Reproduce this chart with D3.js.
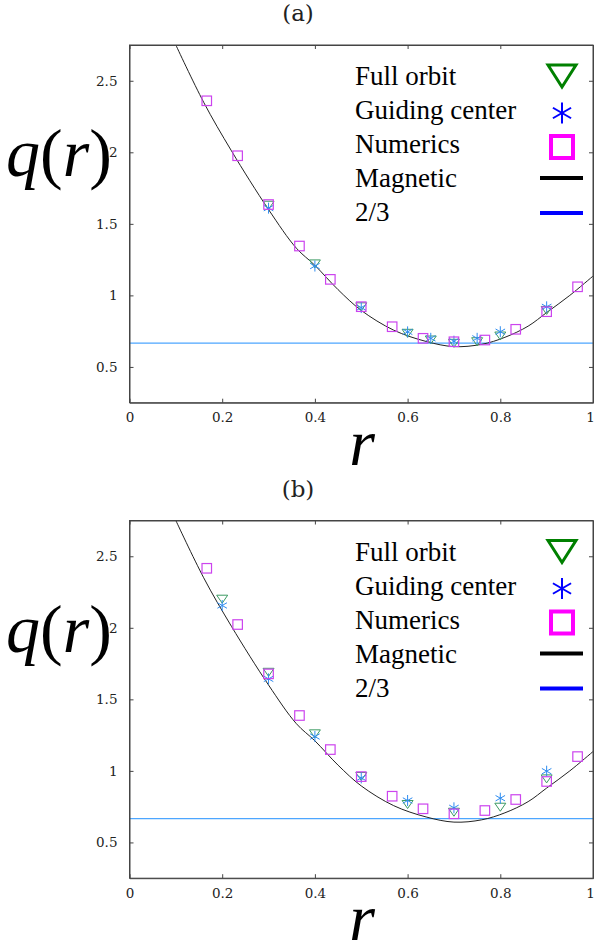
<!DOCTYPE html>
<html>
<head>
<meta charset="utf-8">
<script src="https://cdn.jsdelivr.net/npm/d3@7/dist/d3.min.js"></script>
<style>
  body { margin: 0; background: #fff; }
  svg { display: block; }
</style>
</head>
<body>
<svg id="chart" width="595" height="946"></svg>
<script>
// --- data ---
let numR = [0.1667, 0.2333, 0.3, 0.3667, 0.4333, 0.5, 0.5667, 0.6333, 0.7, 0.7667, 0.8333, 0.9, 0.9667];
let numericsA = [2.36, 1.976, 1.635, 1.345, 1.112, 0.921, 0.781, 0.700, 0.676, 0.688, 0.763, 0.886, 1.06];
let numericsB = [2.416, 2.023, 1.678, 1.387, 1.149, 0.96, 0.823, 0.735, 0.70, 0.723, 0.80, 0.926, 1.10];

let orbitRA = [0.3, 0.4, 0.5, 0.6, 0.65, 0.7, 0.75, 0.8, 0.9];
let fullOrbitA = [1.63, 1.22, 0.92, 0.735, 0.688, 0.665, 0.676, 0.716, 0.895];
let guidingA = [1.61, 1.205, 0.915, 0.745, 0.70, 0.68, 0.70, 0.746, 0.92];

let orbitRB = [0.2, 0.3, 0.4, 0.5, 0.6, 0.7, 0.8, 0.9];
let fullOrbitB = [2.20, 1.689, 1.259, 0.961, 0.765, 0.711, 0.746, 0.944];
let guidingB = [2.156, 1.643, 1.24, 0.951, 0.793, 0.742, 0.809, 0.998];

let magR = [0.10, 0.16, 0.22, 0.30, 0.36, 0.40, 0.45, 0.50, 0.57, 0.64, 0.70, 0.76, 0.81, 0.86, 0.90, 0.95, 1.00];
let magQ = [2.75, 2.35, 2.01, 1.60, 1.33, 1.21, 1.04, 0.895, 0.757, 0.678, 0.642, 0.658, 0.707, 0.785, 0.88, 1.00, 1.135];

let resonance = 2 / 3;
let xTicks = [0, 0.2, 0.4, 0.6, 0.8, 1];
let yTicks = [0.5, 1, 1.5, 2, 2.5];
let legendNames = ["Full orbit", "Guiding center", "Numerics", "Magnetic", "2/3"];

let svg = d3.select("#chart");
let serif = "'Liberation Serif', 'Times New Roman', serif";
let tickFont = "'DejaVu Serif', serif";

let x = d3.scaleLinear().domain([0, 1]).range([129.5, 593]);

function triangle(g, cx, cy, w, h, color, sw) {
    g.append("path")
        .attr("d", "M" + (cx - w / 2) + "," + (cy - h / 2) + "L" + (cx + w / 2) + "," + (cy - h / 2) + "L" + cx + "," + (cy + h / 2) + "Z")
        .attr("fill", "none").attr("stroke", color).attr("stroke-width", sw);
}

function asterisk(g, cx, cy, r, color, sw) {
    [90, 30, -30].forEach(function (a) {
        let rad = a * Math.PI / 180;
        g.append("line")
            .attr("x1", cx - r * Math.cos(rad)).attr("y1", cy - r * Math.sin(rad))
            .attr("x2", cx + r * Math.cos(rad)).attr("y2", cy + r * Math.sin(rad))
            .attr("stroke", color).attr("stroke-width", sw);
    });
}

function square(g, cx, cy, s, color, sw) {
    g.append("rect")
        .attr("x", cx - s / 2).attr("y", cy - s / 2)
        .attr("width", s).attr("height", s)
        .attr("fill", "none").attr("stroke", color).attr("stroke-width", sw);
}

function drawPanel(id, top, title, numerics, orbitR, fullOrbit, guiding) {
    let bottom = top + 357.7;
    let y = d3.scaleLinear().domain([0.25, 2.75]).range([bottom, top]);
    let g = svg.append("g").attr("id", id);

    g.append("text").attr("x", 298).attr("y", top - 24)
        .attr("text-anchor", "middle").attr("font-family", tickFont).attr("font-size", 23)
        .attr("fill", "#222").text(title);

    // q(r) first so that the tick labels sit on top of it
    let ql = g.append("text").attr("x", 6).attr("y", top + 131)
        .attr("font-family", serif).attr("font-size", 68).attr("fill", "#000");
    ql.append("tspan").attr("font-style", "italic").text("q");
    ql.append("tspan").text("(");
    ql.append("tspan").attr("font-style", "italic").text("r");
    ql.append("tspan").text(")");

    let clipId = "clip_" + id;
    g.append("clipPath").attr("id", clipId).append("rect")
        .attr("x", x(0)).attr("y", top).attr("width", x(1) - x(0)).attr("height", bottom - top);

    let plot = g.append("g").attr("clip-path", "url(#" + clipId + ")");

    // 2/3 line
    plot.append("line")
        .attr("x1", x(0)).attr("x2", x(1))
        .attr("y1", y(resonance)).attr("y2", y(resonance))
        .attr("stroke", "#4da6ff").attr("stroke-width", 1.2);

    // magnetic curve
    let line = d3.line()
        .x(function (d, i) { return x(magR[i]); })
        .y(function (d) { return y(d); })
        .curve(d3.curveCatmullRom);
    plot.append("path").datum(magQ).attr("d", line)
        .attr("fill", "none").attr("stroke", "#222").attr("stroke-width", 1);

    // markers
    fullOrbit.forEach(function (q, i) {
        triangle(plot, x(orbitR[i]), y(q), 11, 8, "#3b9a62", 1);
    });
    guiding.forEach(function (q, i) {
        asterisk(plot, x(orbitR[i]), y(q), 5.5, "#2e8cf0", 1);
    });
    numerics.forEach(function (q, i) {
        square(plot, x(numR[i]), y(q), 9.5, "#cc44ee", 1.2);
    });

    // axes: frame plus inward ticks on all four sides
    g.append("g").attr("class", "xbottom").attr("transform", "translate(0," + bottom + ")")
        .call(d3.axisBottom(x).tickValues(xTicks).tickSizeInner(-4).tickSizeOuter(0).tickPadding(10)
            .tickFormat(function (d) { return d === 0 || d === 1 ? d3.format("d")(d) : d3.format(".1f")(d); }));
    g.append("g").attr("transform", "translate(" + x(0) + ",0)")
        .call(d3.axisLeft(y).tickValues(yTicks).tickSizeInner(-4).tickSizeOuter(0).tickPadding(12)
            .tickFormat(function (d) { return d3.format("")(d); }));
    g.append("g").attr("transform", "translate(0," + top + ")")
        .call(d3.axisTop(x).tickValues(xTicks).tickSizeInner(-4).tickSizeOuter(0).tickFormat(""));
    g.append("g").attr("transform", "translate(" + x(1) + ",0)")
        .call(d3.axisRight(y).tickValues(yTicks).tickSizeInner(-4).tickSizeOuter(0).tickFormat(""));

    g.selectAll(".domain").attr("stroke", "#444");
    g.selectAll(".tick line").attr("stroke", "#444");
    g.selectAll(".tick text").attr("font-family", tickFont).attr("font-size", 13.5).attr("fill", "#222");
    // the "1" at the right edge sits just inside the page
    g.select(".xbottom").selectAll(".tick text").filter(function (d) { return d === 1; }).attr("dx", -3);

    g.append("rect").attr("x", x(0)).attr("y", top)
        .attr("width", x(1) - x(0)).attr("height", bottom - top)
        .attr("fill", "none").attr("stroke", "#444").attr("stroke-width", 1);

    g.append("text").attr("x", 362).attr("y", bottom + 62)
        .attr("text-anchor", "middle").attr("font-family", serif).attr("font-style", "italic")
        .attr("font-size", 66).attr("fill", "#000").text("r");

    // legend
    let lg = g.append("g");
    legendNames.forEach(function (name, i) {
        lg.append("text").attr("x", 355).attr("y", top + 40 + i * 34)
            .attr("font-family", serif).attr("font-size", 27).attr("fill", "#000").text(name);
    });
    triangle(lg, 562, top + 31, 28, 22, "#008000", 3);
    asterisk(lg, 562, top + 68, 10.5, "#0000ff", 2);
    square(lg, 562, top + 102, 22, "#ff00ff", 4);
    lg.append("line").attr("x1", 540).attr("x2", 583).attr("y1", top + 133).attr("y2", top + 133)
        .attr("stroke", "#000").attr("stroke-width", 4);
    lg.append("line").attr("x1", 540).attr("x2", 583).attr("y1", top + 168).attr("y2", top + 168)
        .attr("stroke", "#0000ff").attr("stroke-width", 4);
}

drawPanel("panel_a", 45, "(a)", numericsA, orbitRA, fullOrbitA, guidingA);
drawPanel("panel_b", 520.5, "(b)", numericsB, orbitRB, fullOrbitB, guidingB);
</script>
</body>
</html>
